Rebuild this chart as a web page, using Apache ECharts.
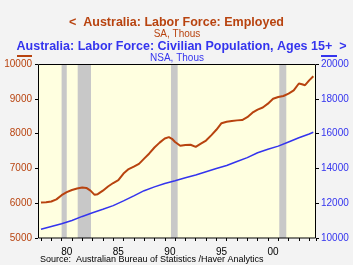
<!DOCTYPE html>
<html>
<head>
<meta charset="utf-8">
<script src="https://cdn.jsdelivr.net/npm/echarts@6/dist/echarts.min.js"></script>
<style>
html,body{margin:0;padding:0;background:#f3f3f3;}
#c{width:353px;height:265px;}
</style>
</head>
<body>
<div id="c"></div>
<script>
// Australia: Labor Force: Employed (SA, Thous) - [year, value]
var employedYears = [1978.0,1978.5,1979.0,1979.5,1980.0,1980.5,1981.0,1981.5,1982.0,1982.4,1982.8,1983.2,1983.5,1984.0,1984.5,1985.0,1985.5,1986.0,1986.5,1987.0,1987.5,1988.0,1988.5,1989.0,1989.5,1990.0,1990.4,1990.7,1991.0,1991.5,1992.0,1992.5,1993.0,1993.5,1994.0,1994.5,1995.0,1995.5,1996.0,1996.5,1997.0,1997.5,1998.0,1998.5,1999.0,1999.5,2000.0,2000.5,2001.0,2001.5,2002.0,2002.5,2003.0,2003.3,2003.6,2004.0,2004.4];
var employedValues = [6020,6030,6050,6110,6230,6320,6380,6420,6450,6440,6360,6240,6260,6360,6480,6580,6660,6850,6980,7050,7130,7280,7430,7600,7740,7860,7900,7850,7760,7650,7670,7680,7620,7710,7800,7950,8110,8300,8340,8360,8380,8390,8470,8600,8690,8750,8860,9000,9050,9080,9150,9240,9440,9420,9390,9530,9650];
// Australia: Labor Force: Civilian Population, Ages 15+ (NSA, Thous)
var popYears = [1978.0,1979.0,1980.0,1981.0,1982.0,1983.0,1984.0,1985.0,1986.0,1987.0,1988.0,1989.0,1990.0,1991.0,1992.0,1993.0,1994.0,1995.0,1996.0,1997.0,1998.0,1999.0,2000.0,2001.0,2002.0,2003.0,2004.0,2004.4];
var popValues = [10500,10660,10820,11010,11240,11450,11650,11860,12130,12420,12720,12940,13130,13290,13460,13620,13810,13990,14170,14400,14620,14900,15100,15280,15520,15760,15980,16080];
// Recession shading [start, end]
var recessions = [[1980.0,1980.5],[1981.56,1982.85],[1990.6,1991.25],[2001.1,2001.78]];
var leftTicks = [5000, 10000, 1000];
var rightTicks = [10000, 20000, 2000];
var yearLabelEvery = 5;

var ORANGE = '#b8430f', BLUE = '#3434ee';
function zip(a, b){ return a.map(function(v,i){ return [v, b[i]]; }); }

var chart = echarts.init(document.getElementById('c'), null, {renderer:'canvas'});
var FONT = 'Liberation Sans, Arial, sans-serif';
var X0 = 38, Y0 = 64, W = 278, H = 174;
var dataLeft = 40.97, labelLeft = 35.81;

chart.setOption({
  backgroundColor: '#f3f3f3',
  animation: false,
  grid: [
    {left: X0, top: Y0, width: W, height: H, show: true, backgroundColor: '#ffffe0', borderWidth: 0},
    {left: dataLeft, top: Y0, width: X0 + W - dataLeft, height: H},
    {left: labelLeft, top: Y0, width: X0 + W - labelLeft, height: H}
  ],
  xAxis: [
    {gridIndex: 0, type: 'value', min: 0, max: 1, axisLine: {show: false}, axisTick: {show: false}, axisLabel: {show: false}, splitLine: {show: false}},
    {gridIndex: 1, type: 'value', min: 1978, max: 2004.66, interval: 1,
     axisLine: {show: false}, splitLine: {show: false}, axisLabel: {show: false},
     axisTick: {show: true, length: 3, lineStyle: {color: '#000'}}},
    {gridIndex: 2, type: 'value', min: 1977.5, max: 2004.66, interval: 1,
     axisLine: {show: false}, splitLine: {show: false}, axisTick: {show: false},
     axisLabel: {show: true, margin: 9, fontSize: 10, fontFamily: FONT, color: '#000',
       formatter: function(v){ var y = Math.round(v - 0.5); if (Math.abs(v - 0.5 - y) > 1e-6) return ''; if (y % yearLabelEvery !== 0) return ''; var s = String(y % 100); return s.length < 2 ? '0' + s : s; }}}
  ],
  yAxis: [
    {gridIndex: 0, type: 'value', position: 'left', min: leftTicks[0], max: leftTicks[1], interval: leftTicks[2],
     axisLine: {show: false}, splitLine: {show: false},
     axisTick: {show: true, length: 3, lineStyle: {color: '#000'}},
     axisLabel: {margin: 6, fontSize: 10, fontFamily: FONT, color: ORANGE, formatter: function(v){ return String(v); }}},
    {gridIndex: 0, type: 'value', position: 'right', min: rightTicks[0], max: rightTicks[1], interval: rightTicks[2],
     axisLine: {show: false}, splitLine: {show: false},
     axisTick: {show: true, length: 3, lineStyle: {color: '#000'}},
     axisLabel: {margin: 5, fontSize: 10, fontFamily: FONT, color: BLUE, formatter: function(v){ return String(v); }}},
    {gridIndex: 1, type: 'value', min: leftTicks[0], max: leftTicks[1], axisLine: {show: false}, axisTick: {show: false}, axisLabel: {show: false}, splitLine: {show: false}},
    {gridIndex: 1, type: 'value', min: rightTicks[0], max: rightTicks[1], axisLine: {show: false}, axisTick: {show: false}, axisLabel: {show: false}, splitLine: {show: false}},
    {gridIndex: 2, type: 'value', min: 0, max: 1, axisLine: {show: false}, axisTick: {show: false}, axisLabel: {show: false}, splitLine: {show: false}}
  ],
  series: [
    {type: 'line', xAxisIndex: 1, yAxisIndex: 3, data: zip(popYears, popValues), showSymbol: false, z: 3,
     lineStyle: {color: BLUE, width: 1.5},
     markArea: {silent: true, z: 1, itemStyle: {color: '#c8c8c8'},
       data: recessions.map(function(r){ return [{xAxis: r[0]}, {xAxis: r[1]}]; })}},
    {type: 'line', xAxisIndex: 1, yAxisIndex: 2, data: zip(employedYears, employedValues), showSymbol: false, z: 4,
     lineStyle: {color: ORANGE, width: 2}}
  ],
  graphic: [
    {type: 'rect', z: 100, silent: true, shape: {x: X0 + 0.5, y: Y0 + 0.5, width: W - 1, height: H - 0.5},
     style: {fill: null, stroke: '#000', lineWidth: 1}},
    {type: 'text', z: 100, x: 176.5, y: 16, style: {text: '<  Australia: Labor Force: Employed', fill: ORANGE, font: 'bold 12.5px ' + FONT, textAlign: 'center'}},
    {type: 'text', z: 100, x: 177, y: 29, style: {text: 'SA, Thous', fill: ORANGE, font: '10px ' + FONT, textAlign: 'center'}},
    {type: 'text', z: 100, x: 181.5, y: 40, style: {text: 'Australia: Labor Force: Civilian Population, Ages 15+  >', fill: BLUE, font: 'bold 12.5px ' + FONT, textAlign: 'center'}},
    {type: 'text', z: 1, x: 177, y: 53, style: {text: 'NSA, Thous', fill: BLUE, font: '10px ' + FONT, textAlign: 'center'}},
    {type: 'line', z: 100, shape: {x1: 17, y1: 56, x2: 32, y2: 56}, style: {stroke: ORANGE, lineWidth: 2}},
    {type: 'line', z: 100, shape: {x1: 321, y1: 56, x2: 337, y2: 56}, style: {stroke: BLUE, lineWidth: 2}},
    {type: 'text', z: 100, x: 40, y: 255.5, style: {text: 'Source:  Australian Bureau of Statistics /Haver Analytics', fill: '#000', font: '9px ' + FONT}}
  ]
});
</script>
</body>
</html>
